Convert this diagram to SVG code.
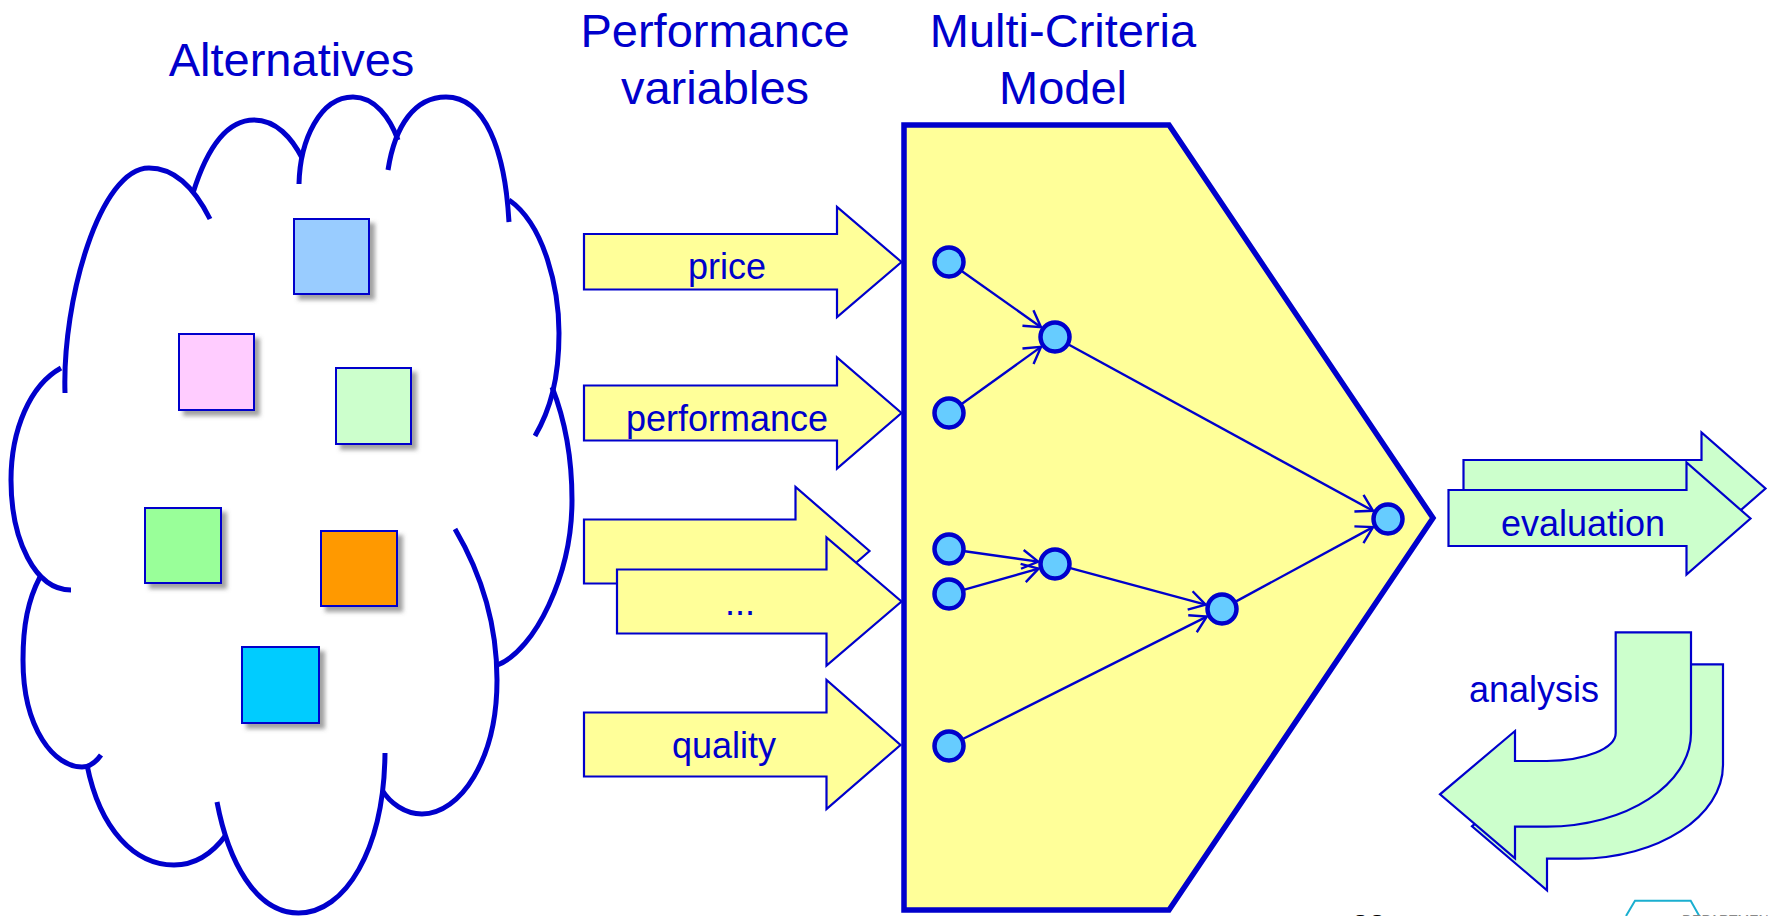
<svg xmlns="http://www.w3.org/2000/svg" width="1768" height="916" viewBox="0 0 1768 916">
<defs>
<style>
text{font-family:"Liberation Sans",Arial,sans-serif;fill:#0000CC}
.title{font-size:47px;text-anchor:middle}
.lbl{font-size:36px;text-anchor:middle}
.cloud{fill:none;stroke:#0000CC;stroke-width:5;stroke-linecap:butt}
.sq{stroke:#0000CC;stroke-width:2;filter:url(#sh)}
.yarrow{fill:#FFFF99;stroke:#0000CC;stroke-width:2.2;stroke-linejoin:miter}
.garrow{fill:#CCFFCC;stroke:#0000CC;stroke-width:2.2;stroke-linejoin:miter}
.node{fill:#66CCFF;stroke:#0000CC;stroke-width:4.5}
.edge{fill:none;stroke:#0000CC;stroke-width:2.4;marker-end:url(#open)}
</style>
<filter id="sh" x="-20%" y="-20%" width="150%" height="150%">
<feDropShadow dx="5" dy="5" stdDeviation="2.2" flood-color="#555555" flood-opacity="0.55"/>
</filter>
<marker id="open" markerUnits="userSpaceOnUse" viewBox="-20 -12 24 24" markerWidth="24" markerHeight="24" refX="0" refY="0" orient="auto">
<path d="M-16,-9.5 L0,0 L-16,9.5" fill="none" stroke="#0000CC" stroke-width="2.4"/>
</marker>
</defs>
<rect width="1768" height="916" fill="#FFFFFF"/>

<g id="titles">
<text class="title" x="291.5" y="76">Alternatives</text>
<text class="title" x="715" y="47">Performance</text>
<text class="title" x="715" y="104">variables</text>
<text class="title" x="1063" y="47">Multi-Criteria</text>
<text class="title" x="1063" y="104">Model</text>
</g>

<g id="alternatives-cloud">
<path class="cloud" d="M65,393 C62,300 100,168 149,168 C178,168 198,195 210,219"/>
<path class="cloud" d="M193,193 C208,145 228,120 254,120 C276,120 292,138 302,158"/>
<path class="cloud" d="M299,184 C300,140 320,97 353,97 C375,97 390,118 398,140"/>
<path class="cloud" d="M388,170 C395,125 415,97 446,97 C485,97 505,150 509,222"/>
<path class="cloud" d="M509,200 C545,225 559,290 559,333 C559,380 550,410 535,436"/>
<path class="cloud" d="M552,387 C565,420 572,460 572,500 C572,575 535,650 497.5,665"/>
<path class="cloud" d="M455,529 C485,580 497,630 497,680 C497,760 460,814 422,814 C405,814 390,803 382,790"/>
<path class="cloud" d="M385,753 C384,850 345,913 298.5,913 C255,913 228,860 217,802"/>
<path class="cloud" d="M87,765 C100,830 135,865 174,865 C198,865 215,850 226,835"/>
<path class="cloud" d="M40,577 C28,600 23,625 23,660 C23,730 55,767 82,767 C90,767 96,762 101,755"/>
<path class="cloud" d="M61,368 C30,385 11,430 11,480 C11,540 35,590 71,590"/>
</g>

<g id="alt-1"><rect class="sq" x="294" y="219" width="75" height="75" fill="#99CCFF"/></g>
<g id="alt-2"><rect class="sq" x="179" y="334" width="75" height="76" fill="#FFCCFF"/></g>
<g id="alt-3"><rect class="sq" x="336" y="368" width="75" height="76" fill="#CCFFCC"/></g>
<g id="alt-4"><rect class="sq" x="145" y="508" width="76" height="75" fill="#99FF99"/></g>
<g id="alt-5"><rect class="sq" x="321" y="531" width="76" height="75" fill="#FF9900"/></g>
<g id="alt-6"><rect class="sq" x="242" y="647" width="77" height="76" fill="#00CCFF"/></g>

<g id="var-price">
<path class="yarrow" d="M584,234 L837,234 L837,207 L901.5,262 L837,317 L837,289.5 L584,289.5 Z"/>
<text class="lbl" x="727" y="279">price</text>
</g>
<g id="var-performance">
<path class="yarrow" d="M584,385.5 L837,385.5 L837,357.5 L901.5,413 L837,468.5 L837,440.5 L584,440.5 Z"/>
<text class="lbl" x="727" y="430.5">performance</text>
</g>
<g id="var-more">
<path class="yarrow" d="M584,519.5 L795.5,519.5 L795.5,487 L869.5,551 L795.5,615.5 L795.5,583.5 L584,583.5 Z"/>
<path class="yarrow" d="M617,569.5 L826.5,569.5 L826.5,537.5 L901.5,601.5 L826.5,665.5 L826.5,633.5 L617,633.5 Z"/>
<text class="lbl" x="740" y="615">...</text>
</g>
<g id="var-quality">
<path class="yarrow" d="M584,712.5 L826.5,712.5 L826.5,680 L900.5,745 L826.5,809 L826.5,776.5 L584,776.5 Z"/>
<text class="lbl" x="724" y="758">quality</text>
</g>

<g id="model">
<polygon points="904,125 1169,125 1433,518 1169,910 904,910" fill="#FFFF99" stroke="#0000CC" stroke-width="5.5" stroke-linejoin="miter"/>
</g>

<g id="connectors">
<line class="edge" x1="962" y1="271.2" x2="1041" y2="327.2"/>
<line class="edge" x1="962" y1="403.7" x2="1041" y2="346.9"/>
<line class="edge" x1="1069" y1="344.7" x2="1373" y2="510.8"/>
<line class="edge" x1="964.8" y1="551.2" x2="1038.2" y2="561.6"/>
<line class="edge" x1="964.4" y1="589.6" x2="1038.6" y2="568.6"/>
<line class="edge" x1="1070.4" y1="568.2" x2="1205.6" y2="604.6"/>
<line class="edge" x1="963.3" y1="738.8" x2="1206.8" y2="616.6"/>
<line class="edge" x1="1236.1" y1="601.4" x2="1373" y2="527.1"/>
</g>

<g id="node-n1"><circle class="node" cx="949" cy="262" r="14.5"/></g>
<g id="node-n2"><circle class="node" cx="949" cy="413" r="14.5"/></g>
<g id="node-h1"><circle class="node" cx="1055" cy="337" r="14.5"/></g>
<g id="node-n3"><circle class="node" cx="949" cy="549" r="14.5"/></g>
<g id="node-n4"><circle class="node" cx="949" cy="594" r="14.5"/></g>
<g id="node-h2"><circle class="node" cx="1055" cy="564" r="14.5"/></g>
<g id="node-h3"><circle class="node" cx="1222" cy="609" r="14.5"/></g>
<g id="node-n5"><circle class="node" cx="949" cy="746" r="14.5"/></g>
<g id="node-final"><circle class="node" cx="1388" cy="519" r="14.5"/></g>

<g id="evaluation">
<path class="garrow" d="M1463.5,460 L1701.5,460 L1701.5,432.5 L1765.5,488.5 L1701.5,544.5 L1701.5,516 L1463.5,516 Z"/>
<path class="garrow" d="M1448.5,490 L1686.5,490 L1686.5,462.5 L1750.5,518.5 L1686.5,574.5 L1686.5,546 L1448.5,546 Z"/>
<text class="lbl" x="1583" y="536">evaluation</text>
</g>

<g id="analysis">
<path class="garrow" transform="translate(32,32)" d="M1615.7,632.3 L1691,632.3 L1691,733 C1691,784.5 1626,826.7 1546.7,826.7 L1515,826.7 L1515,858.3 L1440,794.3 L1515,731 L1515,761 L1546.7,761 C1584.7,761 1615.7,748.5 1615.7,733 Z"/>
<path class="garrow" d="M1615.7,632.3 L1691,632.3 L1691,733 C1691,784.5 1626,826.7 1546.7,826.7 L1515,826.7 L1515,858.3 L1440,794.3 L1515,731 L1515,761 L1546.7,761 C1584.7,761 1615.7,748.5 1615.7,733 Z"/>
<text class="lbl" x="1534" y="701.5">analysis</text>
</g>

<g id="footer">
<path d="M1626,916 L1635,900.7 L1690.7,900.7 L1699.3,916" fill="none" stroke="#1AAFD0" stroke-width="2"/>
<text x="1352" y="935" style="font-size:30px;fill:#000000">33</text>
<text x="1682" y="925" style="font-size:14px;fill:#888888">DEPARTMENT</text>
</g>
</svg>
